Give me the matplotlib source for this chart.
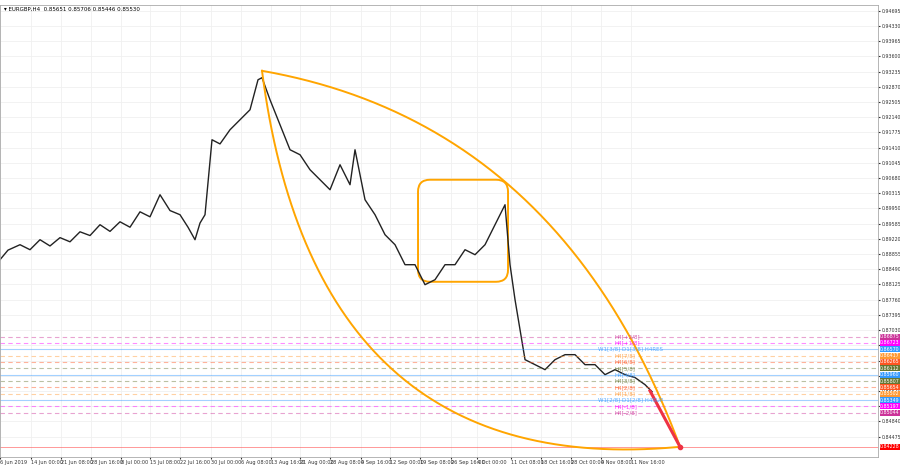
import numpy as np
import matplotlib.pyplot as plt
from matplotlib.patches import FancyBboxPatch

# price trace (bar position, close)
bar_x = [0, 8, 20, 30, 40, 50, 60, 70, 80, 90, 100, 110, 120, 130, 140, 150, 160, 170, 180, 188, 195,
         200, 205, 212, 220, 230, 240, 250, 258, 262,
         270, 280, 290, 300, 310, 320, 330, 340, 350, 355, 365, 375, 385, 395, 405, 415, 425, 435,
         445, 455, 465, 475, 485, 495, 505, 510, 515, 520, 525, 535, 545, 555, 565, 575, 585, 595,
         605, 615, 625, 635, 645, 652]
close = [0.8872, 0.8895, 0.8908, 0.8896, 0.8920, 0.8905, 0.8925, 0.8915, 0.8939, 0.8930, 0.8956,
         0.8940, 0.8963, 0.8950, 0.8987, 0.8975, 0.9028, 0.8990, 0.8980, 0.8950, 0.8920,
         0.8960, 0.8980, 0.9160, 0.9150, 0.9184, 0.9208, 0.9232, 0.9304, 0.9309, 0.9256, 0.9196, 0.9136,
         0.9124, 0.9088, 0.9064, 0.9040, 0.9100, 0.9052, 0.9136, 0.9016, 0.8980, 0.8932, 0.8908,
         0.8860, 0.8860, 0.8812, 0.8824, 0.8860, 0.8860, 0.8896, 0.8884, 0.8908, 0.8956, 0.9004,
         0.8860, 0.8776, 0.8704, 0.8632, 0.8620, 0.8608, 0.8632, 0.8644, 0.8644, 0.8620, 0.8620,
         0.8596, 0.8608, 0.8596, 0.8589, 0.8572, 0.8555]

# murrey levels
lvl_price = [0.86875, 0.86723, 0.86570, 0.86417, 0.86265, 0.86112, 0.85960, 0.85807,
             0.85654, 0.85502, 0.85349, 0.85197, 0.85044]
lvl_name = ["H4[+2/8]", "H4[+1/8]", "W1[3/8] D1[3/8] H4RES", "H4[7/8]", "H4[6/8]", "H4[5/8]",
            "H4[4/8]", "H4[3/8]", "H4[2/8]", "H4[1/8]", "W1[2/8] D1[2/8] H4SUP", "H4[-1/8]", "H4[-2/8]"]
lvl_color = ["#cc3399", "#ff00ff", "#3399ff", "#ff9933", "#ff5522", "#667733", "#3399ff",
             "#667733", "#ff5522", "#ff9933", "#3399ff", "#ff00ff", "#cc3399"]
target = 0.84228

date_pos = [0, 31, 61, 91, 121, 150, 180, 211, 241, 271, 300, 330, 361, 390, 420, 451, 477,
            511, 541, 571, 601, 631]
date_lbl = ["6 Jun 2019", "14 Jun 00:00", "21 Jun 08:00", "28 Jun 16:00", "8 Jul 00:00",
            "15 Jul 08:00", "22 Jul 16:00", "30 Jul 00:00", "6 Aug 08:00", "13 Aug 16:00",
            "21 Aug 00:00", "28 Aug 08:00", "4 Sep 16:00", "12 Sep 00:00", "19 Sep 08:00",
            "26 Sep 16:00", "4 Oct 00:00", "11 Oct 08:00", "18 Oct 16:00", "28 Oct 00:00",
            "4 Nov 08:00", "11 Nov 16:00"]
price_ticks = [0.94695 - 0.00365 * i for i in range(29)]

fig = plt.figure(figsize=(9, 4.7), dpi=100)
ax = fig.add_axes([0.0, 0.028, 0.9756, 0.9617])
ax.set_xlim(0, 878)
ax.set_ylim(0.83987, 0.94839)

for p in date_pos:
    ax.axvline(p, color="#f0f0f0", lw=0.6, zorder=0)
for p in price_ticks:
    ax.axhline(p, color="#f0f0f0", lw=0.6, zorder=0)

ax.plot(bar_x, close, color="#222222", lw=1.0)

fs = 3.4
for p, n, c in zip(lvl_price, lvl_name, lvl_color):
    solid = c == "#3399ff"
    ax.axhline(p, color=c, lw=0.8, alpha=0.45, ls="-" if solid else (0, (4, 3)))
    ax.text(598 if n.startswith("W1") else 614, p, n, color=c, fontsize=4, va="center", alpha=0.8)
    ax.annotate(f"{p:.5f}", xy=(1.0, p), xycoords=("axes fraction", "data"), xytext=(1.5, 0),
                textcoords="offset points", fontsize=fs, color="white", va="center",
                bbox=dict(boxstyle="square,pad=0.1", fc=c, ec="none"), annotation_clip=False)
ax.axhline(target, color="#ff5555", lw=0.7, alpha=0.6)
ax.annotate(f"{target:.5f}", xy=(1.0, target), xycoords=("axes fraction", "data"), xytext=(1.5, 0),
            textcoords="offset points", fontsize=fs, color="white", va="center",
            bbox=dict(boxstyle="square,pad=0.1", fc="red", ec="none"), annotation_clip=False)

# orange arcs from the top to the target
p0 = np.array([262, 0.93255])
p2 = np.array([680, target])
t = np.linspace(0, 1, 200)[:, None]
for c in (np.array([560, 0.9200]), np.array([315, 0.8340])):
    b = (1 - t) ** 2 * p0 + 2 * (1 - t) * t * c + t ** 2 * p2
    ax.plot(b[:, 0], b[:, 1], color="orange", lw=1.4)

box = FancyBboxPatch((418, 0.8819), 90, 0.0245, boxstyle="round,pad=0,rounding_size=12",
                     mutation_aspect=0.00024, fc="none", ec="orange", lw=1.4)
ax.add_patch(box)

ax.plot([650, 680], [0.8557, target], color="#ee3344", lw=2.2)
ax.plot([680], [target], "o", color="#ee3344", ms=3)

ax.yaxis.tick_right()
ax.set_yticks(price_ticks)
ax.set_yticklabels([f"{p:.5f}" for p in price_ticks], fontsize=fs)
ax.set_xticks(date_pos)
ax.set_xticklabels(date_lbl, fontsize=3.6, ha="left")
ax.tick_params(length=1.5, pad=1, colors="#333333")
for s in ax.spines.values():
    s.set_color("#aaaaaa")
    s.set_linewidth(0.6)

ax.text(0.004, 0.995, "\u25be EURGBP,H4  0.85651 0.85706 0.85446 0.85530", transform=ax.transAxes,
        fontsize=4, va="top", ha="left")

fig.savefig("out.png", dpi=100)
